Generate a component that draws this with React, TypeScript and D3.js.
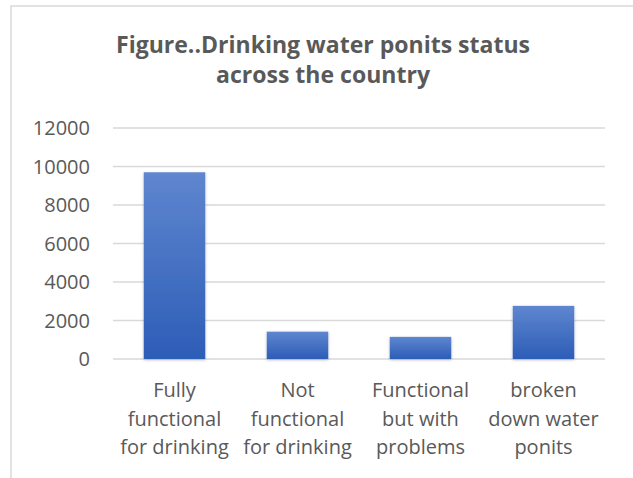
import React from 'react';
import * as d3 from 'd3';

const categories = [
  ['Fully', 'functional', 'for drinking'],
  ['Not', 'functional', 'for drinking'],
  ['Functional', 'but with', 'problems'],
  ['broken', 'down water', 'ponits'],
];
const values = [9700, 1420, 1150, 2760];
const yTicks = [0, 2000, 4000, 6000, 8000, 10000, 12000];
const titleLines = ['Figure..Drinking water ponits status', 'across the country'];

const W = 633;
const H = 478;
const plot = { left: 113, right: 605, top: 128, bottom: 359 };
const textColor = '#595959';
const font = '"Open Sans", sans-serif';

const App: React.FC = () => {
  const x = d3
    .scaleBand<number>()
    .domain(d3.range(categories.length))
    .range([plot.left, plot.right])
    .paddingInner(0.5)
    .paddingOuter(0.25);

  const y = d3.scaleLinear().domain([0, 12000]).range([plot.bottom, plot.top]);

  return (
    <svg width={W} height={H} style={{ position: 'absolute', left: 0, top: 0 }}>
      <defs>
        <linearGradient id="barFill" x1="0" y1="0" x2="0" y2="1">
          <stop offset="0%" stopColor="#5f86cf" />
          <stop offset="100%" stopColor="#2d5db7" />
        </linearGradient>
        <filter id="shadow" x="-20%" y="-20%" width="140%" height="140%">
          <feDropShadow dx="0" dy="1" stdDeviation="1.5" floodColor="#000" floodOpacity="0.25" />
        </filter>
      </defs>
      <rect x={0} y={0} width={W} height={H} fill="#fff" />
      <rect x={11} y={6} width={W + 20} height={H + 20} fill="none" stroke="#d9d9d9" strokeWidth={1.5} />

      {titleLines.map((t, i) => (
        <text
          key={t}
          x={323}
          y={53 + i * 30}
          textAnchor="middle"
          fontFamily={font}
          fontWeight="bold"
          fontSize={23}
          fill={textColor}
          textLength={i === 0 ? 414 : 214}
          lengthAdjust="spacingAndGlyphs"
        >
          {t}
        </text>
      ))}

      {yTicks.map((t) => (
        <g key={t}>
          <line
            x1={plot.left}
            x2={plot.right}
            y1={y(t)}
            y2={y(t)}
            stroke="#d9d9d9"
            strokeWidth={1.5}
          />
          <text
            x={90}
            y={y(t)}
            dy="0.36em"
            textAnchor="end"
            fontFamily={font}
            fontSize={20}
            fill={textColor}
          >
            {t}
          </text>
        </g>
      ))}

      {values.map((v, i) => (
        <rect
          key={i}
          x={x(i)}
          y={y(v)}
          width={x.bandwidth()}
          height={y(0) - y(v)}
          fill="url(#barFill)"
          filter="url(#shadow)"
        />
      ))}

      {categories.map((lines, i) => (
        <text
          key={i}
          x={(x(i) ?? 0) + x.bandwidth() / 2}
          y={397}
          textAnchor="middle"
          fontFamily={font}
          fontSize={20}
          fill={textColor}
        >
          {lines.map((l, j) => (
            <tspan key={j} x={(x(i) ?? 0) + x.bandwidth() / 2} dy={j === 0 ? 0 : 28.5}>
              {l}
            </tspan>
          ))}
        </text>
      ))}
    </svg>
  );
};

export default App;
